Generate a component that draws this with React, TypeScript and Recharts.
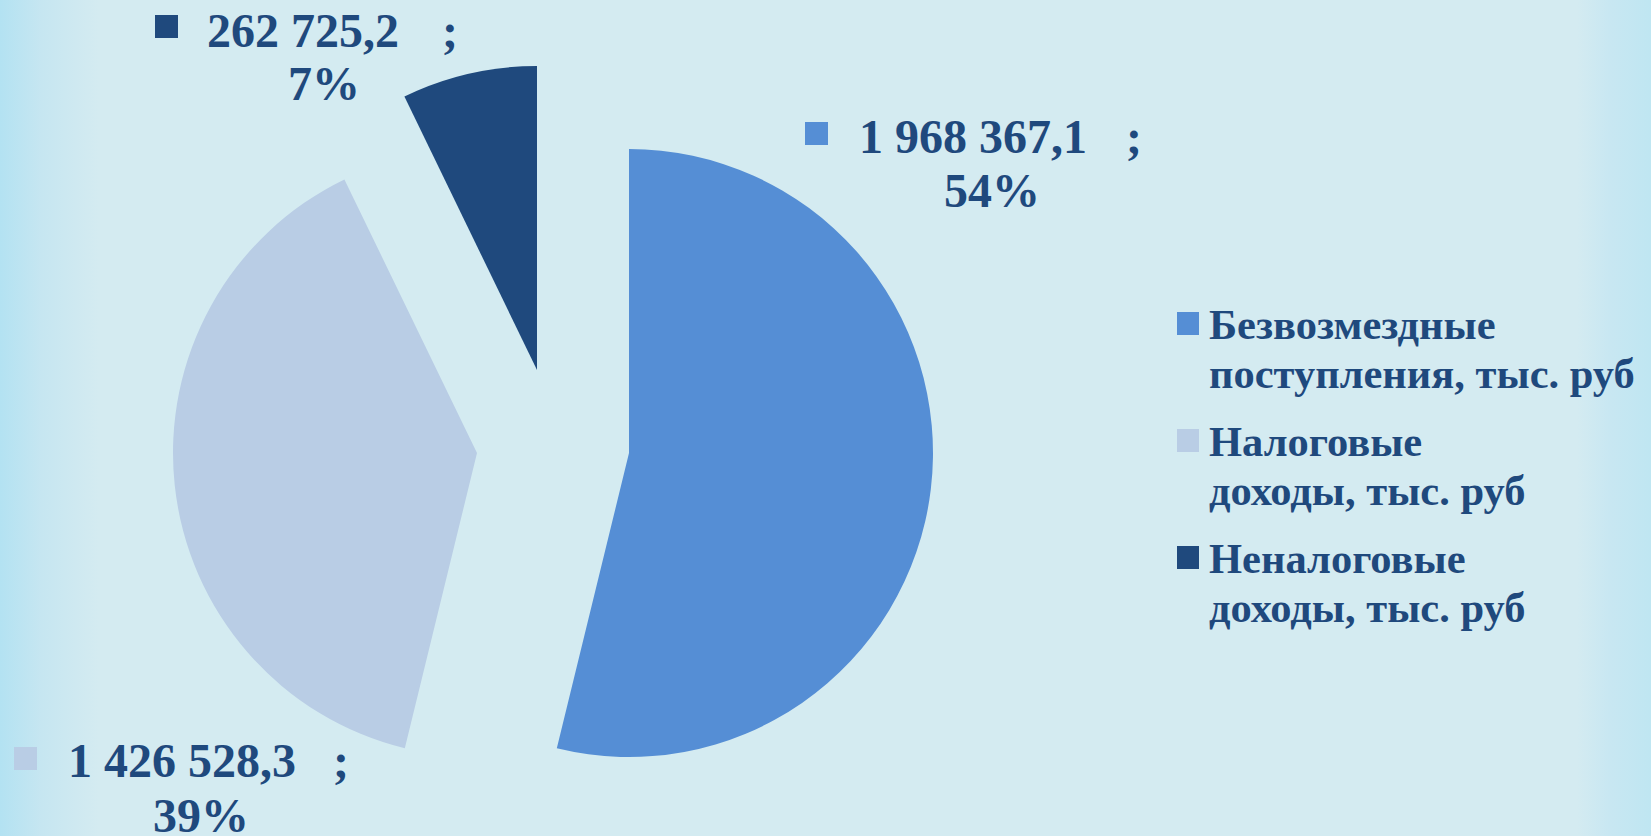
import React from 'react';
import { PieChart, Pie, Cell, Legend } from 'recharts';

// доходы бюджета, тыс. руб
const categories = [
  'Безвозмездные поступления, тыс. руб',
  'Налоговые доходы, тыс. руб',
  'Неналоговые доходы, тыс. руб',
];
const values = [1968367.1, 1426528.3, 262725.2];
const colors = ['#558ed5', '#b9cde5', '#1f497d'];

const data = categories.map((name, i) => ({ name, value: values[i] }));

const W = 1651;
const H = 836;
const R = 304;
const TEXT = '#1f497d';
const FONT = '"Liberation Serif", "Times New Roman", serif';

// exploded slice centres (one pie per slice)
const SLICE_CENTERS = [
  { cx: 629, cy: 453 },
  { cx: 477, cy: 453 },
  { cx: 537, cy: 370 },
];

// data label layout: marker, value text, ";" and percent line
const LABEL_POS = [
  { mx: 805, my: 122, tx: 859, ty: 153, sx: 1126, px: 992, py: 207 },
  { mx: 14, my: 747, tx: 68, ty: 777, sx: 333, px: 201, py: 832 },
  { mx: 155, my: 15, tx: 207, ty: 47, sx: 442, px: 324, py: 100 },
];

const fmt = (v: number) => {
  const [int, dec] = v.toFixed(1).split('.');
  return int.replace(/\B(?=(\d{3})+(?!\d))/g, ' ') + ',' + dec;
};

const makeLabel = (k: number) => (props: any) => {
  if (props.index !== k) return null;
  const p = LABEL_POS[k];
  return (
    <g key={`lbl-${k}`} fontFamily={FONT} fontWeight="bold" fontSize={48} fill={TEXT}>
      <rect x={p.mx} y={p.my} width={23} height={23} fill={colors[k]} />
      <text x={p.tx} y={p.ty}>{fmt(props.value)}</text>
      <text x={p.sx} y={p.ty}>;</text>
      <text x={p.px} y={p.py} textAnchor="middle">
        {`${Math.round(props.percent * 100)}%`}
      </text>
    </g>
  );
};

const renderLegend = () => (
  <svg width={480} height={360}>
    {categories.map((name, i) => {
      const sp = name.indexOf(' ');
      const y0 = i * 117;
      return (
        <g key={name} fontFamily={FONT} fontWeight="bold" fontSize={42.5} fill={TEXT}>
          <rect x={7} y={y0 + 12} width={22} height={23} fill={colors[i]} />
          <text x={39} y={y0 + 39}>{name.slice(0, sp)}</text>
          <text x={39} y={y0 + 88}>{name.slice(sp + 1)}</text>
        </g>
      );
    })}
  </svg>
);

export default function App() {
  return (
    <div
      style={{
        position: 'fixed',
        left: 0,
        top: 0,
        width: W,
        height: H,
        background:
          'linear-gradient(to right, #b3e2f2 0%, #c6e6f1 2.5%, #d4ebf1 6%, #d4ebf1 95.5%, #c8e7f2 97.5%, #bfe6f2 100%)',
      }}
    >
      <PieChart width={W} height={H} margin={{ top: 0, right: 0, bottom: 0, left: 0 }}>
        {SLICE_CENTERS.map((c, k) => (
          <Pie
            key={k}
            data={data}
            dataKey="value"
            nameKey="name"
            cx={c.cx}
            cy={c.cy}
            innerRadius={0}
            outerRadius={R}
            startAngle={90}
            endAngle={-270}
            stroke="none"
            labelLine={false}
            label={makeLabel(k)}
            isAnimationActive={false}
          >
            {data.map((d, i) => (
              <Cell key={d.name} fill={i === k ? colors[i] : 'transparent'} />
            ))}
          </Pie>
        ))}
        <Legend
          layout="vertical"
          align="right"
          verticalAlign="top"
          content={renderLegend}
          wrapperStyle={{ left: 1170, top: 300, right: 'auto', width: 480, height: 360 }}
        />
      </PieChart>
    </div>
  );
}
